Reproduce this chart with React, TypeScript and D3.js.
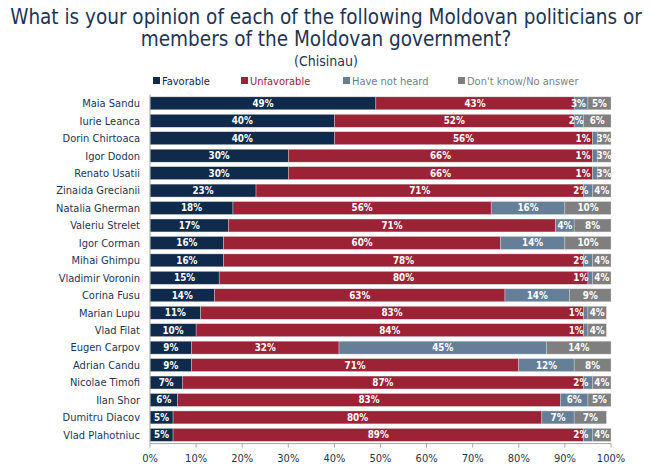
import React from "react";
import * as d3 from "d3";

const categories = [
  "Maia Sandu", "Iurie Leanca", "Dorin Chirtoaca", "Igor Dodon", "Renato Usatii",
  "Zinaida Grecianii", "Natalia Gherman", "Valeriu Strelet", "Igor Corman", "Mihai Ghimpu",
  "Vladimir Voronin", "Corina Fusu", "Marian Lupu", "Vlad Filat", "Eugen Carpov",
  "Adrian Candu", "Nicolae Timofi", "Ilan Shor", "Dumitru Diacov", "Vlad Plahotniuc",
];
const favorable = [49, 40, 40, 30, 30, 23, 18, 17, 16, 16, 15, 14, 11, 10, 9, 9, 7, 6, 5, 5];
const unfavorable = [43, 52, 56, 66, 66, 71, 56, 71, 60, 78, 80, 63, 83, 84, 32, 71, 87, 83, 80, 89];
const haveNotHeard = [3, 2, 1, 1, 1, 2, 16, 4, 14, 2, 1, 14, 1, 1, 45, 12, 2, 6, 7, 2];
const dontKnow = [5, 6, 3, 3, 3, 4, 10, 8, 10, 4, 4, 9, 4, 4, 14, 8, 4, 5, 7, 4];
const seriesNames = ["Favorable", "Unfavorable", "Have not heard", "Don't know/No answer"];
const seriesColors = ["#0f2a4b", "#9c2236", "#667f99", "#7f7f7f"];
const xTicks = [0, 10, 20, 30, 40, 50, 60, 70, 80, 90, 100];

const FONT = "'DejaVu Sans Condensed', 'DejaVu Sans', sans-serif";
const NAVY = "#1d3553";

export default function App() {
  const W = 650, H = 473;
  const x = d3.scaleLinear().domain([0, 100]).range([150, 611]);
  const y = d3.scaleBand<string>().domain(categories).range([94.6, 443.6]).paddingInner(0.26).paddingOuter(0.13);
  const seriesData = [favorable, unfavorable, haveNotHeard, dontKnow];
  const rows = categories.map((c, i) => {
    const r: any = { cat: c };
    seriesNames.forEach((s, k) => (r[s] = seriesData[k][i]));
    return r;
  });
  const stacked = d3.stack<any>().keys(seriesNames)(rows);
  const labelW = 13;
  const gap = 8;

  const labels: { x: number; y: number; t: string; key: string }[] = [];
  categories.forEach((c, i) => {
    const centers = stacked.map((s) => (x(s[i][0]) + x(s[i][1])) / 2);
    const pos = centers.slice();
    for (let k = pos.length - 2; k >= 0; k--) {
      const maxC = pos[k + 1] - labelW - gap;
      if (pos[k] > maxC) pos[k] = maxC;
    }
    stacked.forEach((s, k) => {
      labels.push({ x: pos[k], y: (y(c) as number) + y.bandwidth() / 2, t: `${seriesData[k][i]}%`, key: `${k}-${i}` });
    });
  });

  const legendX = [153, 241, 343, 458];

  return (
    <svg width={W} height={H} style={{ position: "absolute", left: 0, top: 0 }} fontFamily={FONT}>
      <rect width={W} height={H} fill="#fff" />
      <text x={326} y={24} textAnchor="middle" fontSize={20.5} fill={NAVY}>
        What is your opinion of each of the following Moldovan politicians or
      </text>
      <text x={326} y={46} textAnchor="middle" fontSize={20.5} fill={NAVY}>
        members of the Moldovan government?
      </text>
      <text x={326} y={66} textAnchor="middle" fontSize={14} fill={NAVY}>
        (Chisinau)
      </text>
      {seriesNames.map((s, k) => (
        <g key={s}>
          <rect x={legendX[k]} y={77} width={7} height={7} fill={seriesColors[k]} />
          <text x={legendX[k] + 9} y={84.5} fontSize={11} fill={seriesColors[k]}>
            {s}
          </text>
        </g>
      ))}
      {stacked.map((s, k) => (
        <g key={s.key} fill={seriesColors[k]}>
          {s.map((d, i) => (
            <rect
              key={i}
              x={x(d[0])}
              y={y(categories[i])}
              width={x(d[1]) - x(d[0])}
              height={y.bandwidth()}
              stroke="#d9d9d9"
              strokeWidth={0.4}
            />
          ))}
        </g>
      ))}
      {labels.map((l) => (
        <text key={l.key} x={l.x} y={l.y} dy="0.35em" textAnchor="middle" fontSize={9.8} fontWeight="bold" fill="#fff">
          {l.t}
        </text>
      ))}
      {categories.map((c) => (
        <text key={c} x={140} y={(y(c) as number) + y.bandwidth() / 2} dy="0.35em" textAnchor="end" fontSize={11} fill={NAVY}>
          {c}
        </text>
      ))}
      <line x1={150} x2={150} y1={94.6} y2={443.6} stroke="#a6a6a6" strokeWidth={1} />
      <line x1={150} x2={611} y1={443.6} y2={443.6} stroke="#a6a6a6" strokeWidth={1} />
      {xTicks.map((t) => (
        <g key={t}>
          <line x1={x(t)} x2={x(t)} y1={443.6} y2={447.6} stroke="#a6a6a6" />
          <text x={x(t)} y={458} dy="0.35em" textAnchor="middle" fontSize={11} fill={NAVY}>
            {`${t}%`}
          </text>
        </g>
      ))}
    </svg>
  );
}
